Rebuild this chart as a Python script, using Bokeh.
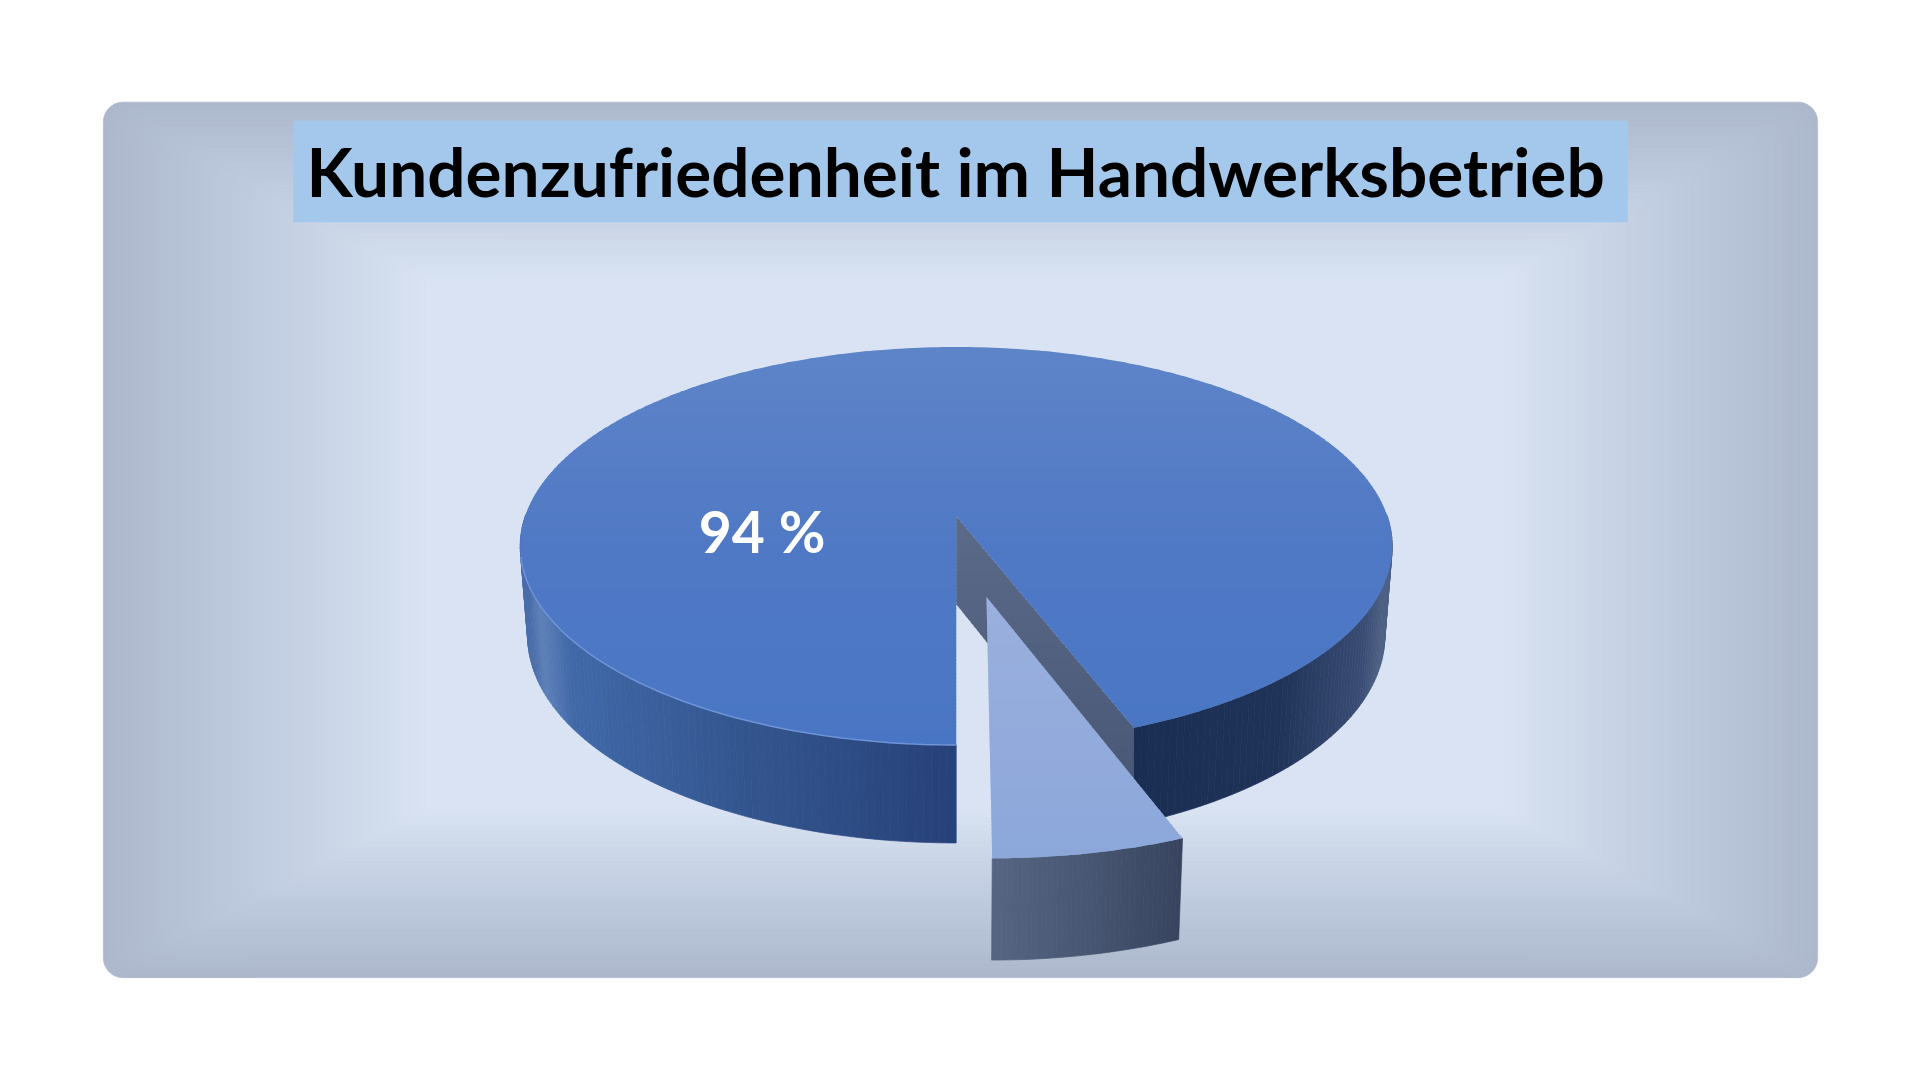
import numpy as np
from bokeh.plotting import figure
from bokeh.models import ColumnDataSource
from bokeh.core.properties import value
from bokeh.embed import file_html
from bokeh.resources import INLINE

# data
categories = ["Zufrieden", "Nicht zufrieden"]
shares = [94, 6]
labels = ["94 %"]
title = "Kundenzufriedenheit im Handwerksbetrieb"

S = 1920 / 1568  # geometry below is in 1568-wide sketch units


def lerp_hex(stops, t):
    xs = [s[0] for s in stops]
    rgb = [[int(s[1][i:i + 2], 16) for i in (1, 3, 5)] for s in stops]
    vals = [np.interp(t, xs, [c[k] for c in rgb]) for k in range(3)]
    return "#%02x%02x%02x" % tuple(int(round(v)) for v in vals)


p = figure(width=1904, height=1064, x_range=(0, 1904), y_range=(1064, 0),
           output_backend="svg", toolbar_location=None, min_border=0,
           background_fill_color="white", border_fill_color="white")
p.axis.visible = False
p.grid.visible = False
p.outline_line_color = None


def draw(polys, colors, stroke=True):
    src = ColumnDataSource(dict(xs=[list(np.asarray(q[0]) * S) for q in polys],
                                ys=[list(np.asarray(q[1]) * S) for q in polys],
                                c=colors))
    p.patches("xs", "ys", source=src, fill_color="c",
              line_color="c" if stroke else None, line_width=0.7)


# ---- panel background (mitred gradient)
def rrect(l, r, t, b, rad):
    a = np.linspace(0, np.pi / 2, 8)
    xs = np.r_[r - rad + rad * np.sin(a), r - rad + rad * np.cos(a),
               l + rad - rad * np.sin(a), l + rad - rad * np.cos(a)]
    ys = np.r_[t + rad - rad * np.cos(a), b - rad + rad * np.sin(a),
               b - rad + rad * np.cos(a), t + rad - rad * np.sin(a)]
    return xs, ys


bg_stops = [(0, "#adb8cc"), (0.22, "#b5c1d5"), (0.5, "#c1cde0"), (0.75, "#cdd8e9"), (1, "#d9e3f3")]
polys, cols = [], []
N = 120
for i in range(N + 1):
    t = i / N
    polys.append(rrect(84 + (350 - 84) * t, 1484 - (1484 - 1225) * t,
                       83 + (228 - 83) * t, 798 - (798 - 660) * t, 16 * (1 - t)))
    cols.append(lerp_hex(bg_stops, t))
draw(polys, cols)

# ---- title box
p.quad(left=[239 * S], right=[1329 * S], top=[98 * S], bottom=[181 * S],
       fill_color="#a4c8ec", line_color=None)
p.text(x=[780 * S], y=[139 * S], text=[title], text_font=value("Lato"),
       text_font_style="bold", text_font_size="67.5px", text_color="black",
       text_align="center", text_baseline="middle")

# ---- pie projection
CX, Y0, R, K, A = 780.5, 421.0, 352.0, 0.1508, 158.8


def proj(u, v):
    d = 1 - K * v
    return CX + R * u / d, Y0 + A * v / d


def proj_bot(u, v, sx=0.983):
    x, y = proj(u, v)
    return CX + sx * (x - CX), y + 72 + 8 * v


def clip_band(xs, ys, y0, y1):
    pts = list(zip(xs, ys))
    for lim, sign in ((y0, 1), (y1, -1)):
        out = []
        for i in range(len(pts)):
            a, b = pts[i - 1], pts[i]
            ina, inb = sign * (a[1] - lim) >= 0, sign * (b[1] - lim) >= 0
            if ina != inb:
                f = (lim - a[1]) / (b[1] - a[1])
                out.append((a[0] + f * (b[0] - a[0]), lim))
            if inb:
                out.append(b)
        pts = out
        if not pts:
            return None
    return [q[0] for q in pts], [q[1] for q in pts]


def gradient_poly(xs, ys, stops, step=3.0):
    y = min(ys)
    lo, hi = min(ys), max(ys)
    polys, cols = [], []
    while y < hi:
        c = clip_band(xs, ys, y, y + step + 1.0)
        if c:
            polys.append(c)
            cols.append(lerp_hex(stops, (y - lo) / (hi - lo)))
        y += step
    draw(polys, cols, stroke=False)


# the reference's 3D view foreshortens the small slice slightly
gap = np.radians(360 * shares[1] / sum(shares)) * 0.96
t = np.linspace(gap, 2 * np.pi, 361)
u, v = np.sin(t), np.cos(t)

# outer wall
side_stops = [(431, "#4a6daa"), (441, "#5d80b8"), (465, "#4068a8"), (600, "#34568f"), (780, "#27417a"),
              (926, "#1a2d52"), (1045, "#1f3358"), (1115, "#3a4c74"), (1133, "#4f6285")]
polys, cols = [], []
for i in range(len(t) - 1):
    if v[i] < 0 and v[i + 1] < 0:
        continue
    x0, y0 = proj(u[i], v[i])
    x1, y1 = proj(u[i + 1], v[i + 1])
    x2, y2 = proj_bot(u[i + 1], v[i + 1])
    x3, y3 = proj_bot(u[i], v[i])
    polys.append(([x0, x1, x2, x3], [y0, y1, y2, y3]))
    cols.append(lerp_hex(side_stops, (x0 + x1) / 2))
draw(polys, cols)

# inner cut wall (far side of the gap)
ex, ey = proj(np.sin(gap), np.cos(gap))
bx, by = proj_bot(np.sin(gap), np.cos(gap), 1.0)
ax, ay = proj(0, 0)
cx_, cy_ = proj_bot(0, 0, 1.0)
gradient_poly([ax, ex, bx, cx_], [ay, ey, by, cy_], [(0, "#5a6a88"), (1, "#465573")])

# top face
tx, ty = proj(u, v)
gradient_poly(list(tx) + [ax], list(ty) + [ay],
              [(0, "#5e84c8"), (0.5, "#5079c5"), (1, "#4976c4")])

# light rim on the front edge
front = (v > 0.2)
p.line(tx[front & (u < 0)] * S, ty[front & (u < 0)] * S, line_color="#6f94d8", line_width=1.5)

# ---- exploded slice
DU, DV = 0.066, 0.391
ts = np.linspace(0, gap, 40)
us, vs = np.sin(ts) + DU, np.cos(ts) + DV

# slice outer wall
side2 = [(808, "#566682"), (890, "#475672"), (968, "#37435e")]
polys, cols = [], []
for i in range(len(ts) - 1):
    x0, y0 = proj(us[i], vs[i])
    x1, y1 = proj(us[i + 1], vs[i + 1])
    x2, y2 = proj_bot(us[i + 1], vs[i + 1])
    x3, y3 = proj_bot(us[i], vs[i])
    polys.append(([x0, x1, x2, x3], [y0, y1, y2, y3]))
    cols.append(lerp_hex(side2, (x0 + x1) / 2))
draw(polys, cols)

sx, sy = proj(us, vs)
ax2, ay2 = proj(DU, DV)
gradient_poly(list(sx) + [ax2], list(sy) + [ay2], [(0, "#9ab0de"), (1, "#8ca7da")])

# ---- percentage label
p.text(x=[622 * S], y=[433 * S], text=[labels[0]], text_font=value("Lato"),
       text_font_style="bold", text_font_size="57px", text_color="white",
       text_align="center", text_baseline="middle")

open("out.html", "w").write(file_html(p, INLINE))
